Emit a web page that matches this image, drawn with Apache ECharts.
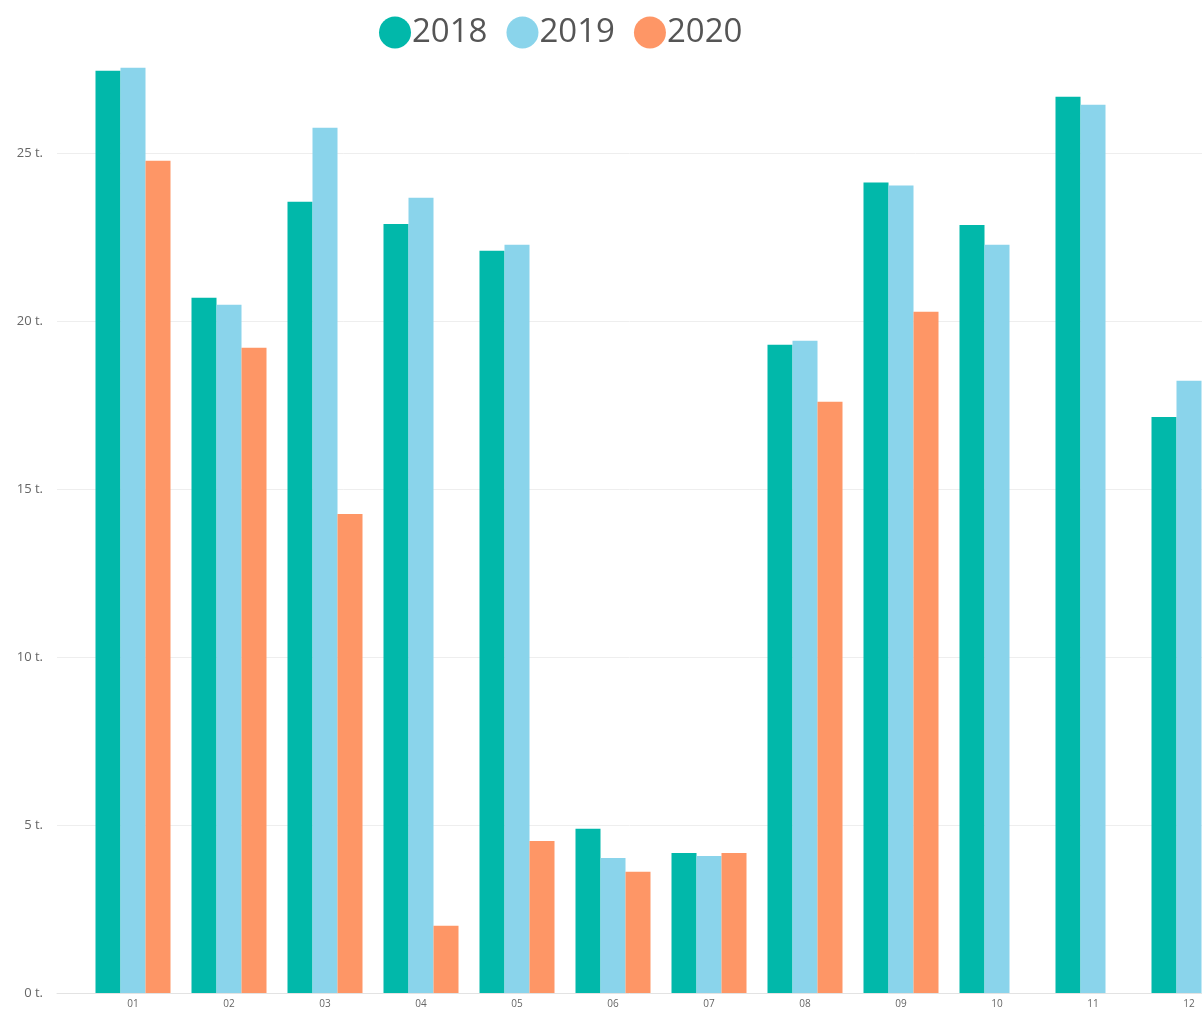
<!DOCTYPE html>
<html>
<head>
<meta charset="utf-8">
<script src="https://cdn.jsdelivr.net/npm/echarts@6/dist/echarts.min.js"></script>
<style>html,body{margin:0;padding:0;background:#fff;}#c{width:1202px;height:1009px;}</style>
</head>
<body>
<div id="c"></div>
<script>
var months = ['01','02','03','04','05','06','07','08','09','10','11','12'];
var s2018 = [27.47, 20.71, 23.57, 22.91, 22.11, 4.89, 4.17, 19.31, 24.14, 22.88, 26.70, 17.16];
var s2019 = [27.56, 20.50, 25.77, 23.69, 22.29, 4.02, 4.08, 19.43, 24.05, 22.29, 26.46, 18.24];
var s2020 = [24.79, 19.22, 14.27, 2.00, 4.53, 3.61, 4.17, 17.61, 20.29, null, null, null];
var yTicks = [0, 5, 10, 15, 20, 25];

var colors = ['#01B8AA', '#8AD4EB', '#FE9666'];
var font = '"Segoe UI", "Open Sans", "Noto Sans", sans-serif';

// months laid out on a numeric axis (1..12) so the last group can run past the right edge
function pairs(arr) {
  var out = [];
  arr.forEach(function (v, i) { if (v !== null) out.push([i + 1, v]); });
  return out;
}
var monthIdx = months.map(function (m, i) { return i + 1; });
var visibleSpan = (1202 - 85) / 96; // categories visible in the plot width

var chart = echarts.init(document.getElementById('c'));
chart.setOption({
  animation: false,
  color: colors,
  legend: {
    left: 374, top: 11, icon: 'circle', itemWidth: 32, itemHeight: 32, itemGap: 19,
    textStyle: {fontSize: 33, color: '#555', fontFamily: font, padding: [0, 0, 0, -4]},
    data: ['2018', '2019', '2020']
  },
  grid: [
    {left: 57, right: 0, top: 53, bottom: 16, containLabel: false},
    {left: 85, right: 0, top: 53, bottom: 16, containLabel: false}
  ],
  xAxis: [
    {gridIndex: 0, type: 'value', min: 0, max: 1, axisLine: {show: true, lineStyle: {color: '#e3e3e3', width: 1}},
     axisTick: {show: false}, axisLabel: {show: false}, splitLine: {show: false}},
    {gridIndex: 1, type: 'value', min: 0.5, max: 0.5 + visibleSpan, axisLine: {show: false}, axisTick: {show: false},
     splitLine: {show: false},
     axisLabel: {customValues: monthIdx, formatter: function (v) { return months[Math.round(v) - 1] || ''; },
       fontSize: 10, color: '#666', margin: 6, fontFamily: font, showMinLabel: true, showMaxLabel: true}}
  ],
  yAxis: [
    {gridIndex: 0, type: 'value', min: yTicks[0], max: 28, interval: 5,
     axisLine: {show: false}, axisTick: {show: false},
     axisLabel: {formatter: '{value} t.', fontSize: 13, color: '#666', margin: 14, fontFamily: font, showMaxLabel: false},
     splitLine: {show: true, showMaxLine: false, showMinLine: false, lineStyle: {color: '#eeeeee', width: 1}}},
    {gridIndex: 1, type: 'value', min: 0, max: 28, interval: 5, show: false, splitLine: {show: false}}
  ],
  series: [
    {name: '2018', type: 'bar', xAxisIndex: 1, yAxisIndex: 1, data: pairs(s2018), barWidth: 25, barGap: '0%', clip: true},
    {name: '2019', type: 'bar', xAxisIndex: 1, yAxisIndex: 1, data: pairs(s2019), barWidth: 25, barGap: '0%', clip: true},
    {name: '2020', type: 'bar', xAxisIndex: 1, yAxisIndex: 1, data: pairs(s2020), barWidth: 25, barGap: '0%', clip: true}
  ]
});
</script>
</body>
</html>
